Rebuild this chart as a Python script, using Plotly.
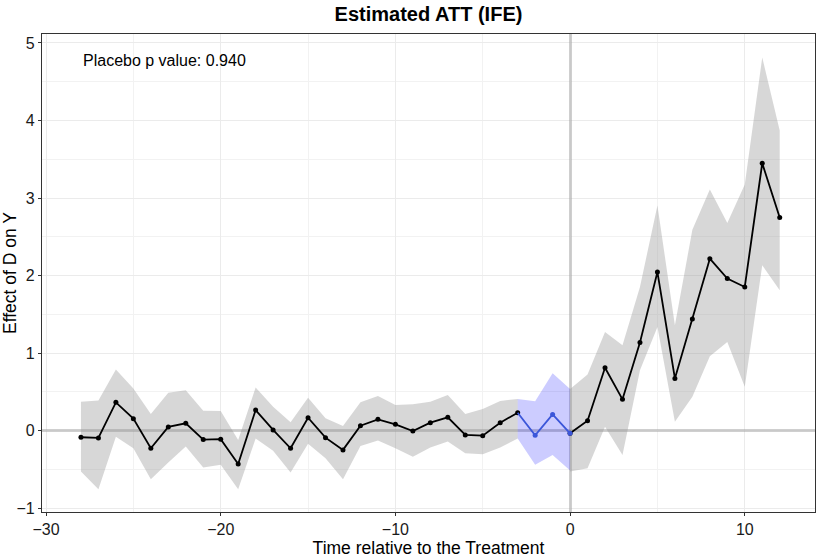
import plotly.graph_objects as go

# ---- data ----
time_pre = [-28, -27, -26, -25, -24, -23, -22, -21, -20, -19, -18, -17, -16, -15,
            -14, -13, -12, -11, -10, -9, -8, -7, -6, -5, -4, -3]
att_pre = [-0.085, -0.094, 0.365, 0.155, -0.227, 0.048, 0.095, -0.115, -0.11, -0.43,
           0.266, 0.01, -0.227, 0.167, -0.09, -0.248, 0.064, 0.146, 0.082, -0.004,
           0.103, 0.172, -0.055, -0.064, 0.103, 0.232]
upper_pre = [0.373, 0.39, 0.79, 0.545, 0.215, 0.49, 0.52, 0.257, 0.253, -0.12,
             0.558, 0.31, 0.11, 0.425, 0.16, 0.06, 0.365, 0.447, 0.33, 0.34,
             0.373, 0.46, 0.215, 0.28, 0.382, 0.41]
lower_pre = [-0.527, -0.755, -0.077, -0.227, -0.625, -0.41, -0.205, -0.475, -0.44, -0.755,
             -0.1, -0.26, -0.54, -0.17, -0.355, -0.625, -0.197, -0.128, -0.227, -0.335,
             -0.218, -0.14, -0.29, -0.304, -0.218, -0.1]

time_placebo = [-3, -2, -1, 0]
att_placebo = [0.232, -0.06, 0.21, -0.034]
upper_placebo = [0.41, 0.38, 0.74, 0.537]
lower_placebo = [-0.1, -0.44, -0.313, -0.515]

time_post = [0, 1, 2, 3, 4, 5, 6, 7, 8, 9, 10, 11, 12]
att_post = [-0.034, 0.129, 0.811, 0.404, 1.138, 2.046, 0.674, 1.441, 2.218, 1.961,
            1.853, 3.449, 2.75]
upper_post = [0.537, 0.725, 1.274, 1.103, 1.853, 2.905, 1.36, 2.59, 3.11, 2.677,
              3.175, 4.813, 3.87]
lower_post = [-0.527, -0.484, 0.052, -0.313, 0.78, 1.338, 0.116, 0.438, 0.961, 1.145,
              0.566, 2.133, 1.81]

x_ticks = [-30, -20, -10, 0, 10]
y_ticks = [-1, 0, 1, 2, 3, 4, 5]

title_text = "Estimated ATT (IFE)"
x_title = "Time relative to the Treatment"
y_title = "Effect of D on Y"
placebo_label = "Placebo p value: 0.940"

FONT = "Liberation Sans, Arial, Helvetica, sans-serif"
GRAY_FILL = "rgba(150,150,150,0.38)"
BLUE_FILL = "rgba(0,0,255,0.2)"
BLUE_LINE = "#3b56d9"


def ribbon(x, lo, hi, color):
    return go.Scatter(
        x=list(x) + list(x)[::-1],
        y=list(hi) + list(lo)[::-1],
        fill="toself", fillcolor=color, mode="none",
        hoverinfo="skip", showlegend=False,
    )


fig = go.Figure()
fig.add_trace(ribbon(time_pre, lower_pre, upper_pre, GRAY_FILL))
fig.add_trace(ribbon(time_post, lower_post, upper_post, GRAY_FILL))
fig.add_trace(ribbon(time_placebo, lower_placebo, upper_placebo, BLUE_FILL))

fig.add_trace(go.Scatter(x=time_pre, y=att_pre, mode="lines+markers",
                         line=dict(color="black", width=1.8),
                         marker=dict(color="black", size=5), showlegend=False))
fig.add_trace(go.Scatter(x=time_post, y=att_post, mode="lines+markers",
                         line=dict(color="black", width=1.8),
                         marker=dict(color="black", size=5), showlegend=False))
fig.add_trace(go.Scatter(x=time_placebo, y=att_placebo, mode="lines",
                         line=dict(color=BLUE_LINE, width=1.8), showlegend=False))
fig.add_trace(go.Scatter(x=time_placebo[1:], y=att_placebo[1:], mode="markers",
                         marker=dict(color=BLUE_LINE, size=5), showlegend=False))

fig.add_annotation(x=time_pre[0], y=4.77, text=placebo_label, showarrow=False,
                   xanchor="left", yanchor="middle",
                   font=dict(family=FONT, size=16, color="black"))

axis_common = dict(
    automargin=False,
    showline=True, linecolor="#333333", linewidth=1.2, mirror=True,
    ticks="outside", ticklen=3, tickcolor="#333333",
    tickfont=dict(family=FONT, size=16, color="#1a1a1a"),
    showgrid=True, gridcolor="#ebebeb", gridwidth=1,
    zeroline=True, zerolinecolor="rgba(160,160,160,0.5)", zerolinewidth=3,
)

fig.update_layout(
    width=817, height=558,
    margin=dict(l=42, r=2, t=34, b=46),
    paper_bgcolor="white", plot_bgcolor="white",
    title=dict(text="<b>" + title_text + "</b>", x=(42 + 815) / 2 / 817, xanchor="center",
               xref="container", yref="container",
               y=1 - 14 / 558, yanchor="middle",
               font=dict(family=FONT, size=20, color="black")),
    xaxis=dict(range=[-30.23, 14.02], tickvals=x_ticks,
               ticktext=[str(v).replace("-", "\u2212") for v in x_ticks],
               minor=dict(dtick=5, tick0=0, showgrid=True, gridcolor="#f2f2f2", ticks=""),
               title=dict(text=x_title, standoff=2,
                          font=dict(family=FONT, size=17.5, color="black")),
               **axis_common),
    yaxis=dict(range=[-1.049, 5.116], tickvals=y_ticks,
               ticktext=[str(v).replace("-", "\u2212") for v in y_ticks],
               minor=dict(dtick=0.5, tick0=0, showgrid=True, gridcolor="#f2f2f2", ticks=""),
               title=dict(text=y_title, standoff=4,
                          font=dict(family=FONT, size=17.5, color="black")),
               **axis_common),
)

fig.write_html("out.html", config={"displayModeBar": False},
               post_script="document.body.style.margin='0';")
